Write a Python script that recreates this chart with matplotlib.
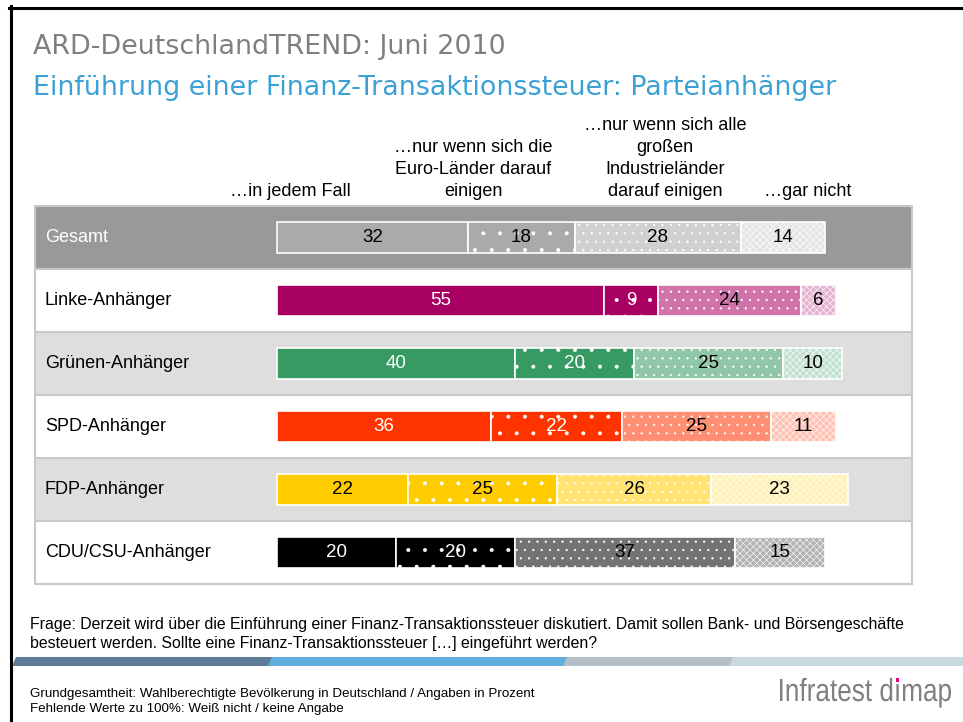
import matplotlib.pyplot as plt
import numpy as np
from matplotlib.colors import to_rgb
from matplotlib.patches import Rectangle, Polygon, PathPatch
from matplotlib.lines import Line2D
from matplotlib.textpath import TextPath
from matplotlib.font_manager import FontProperties
from matplotlib.transforms import Affine2D, IdentityTransform

groups = ["Gesamt", "Linke-Anhänger", "Grünen-Anhänger", "SPD-Anhänger",
          "FDP-Anhänger", "CDU/CSU-Anhänger"]
in_jedem_fall = [32, 55, 40, 36, 22, 20]
nur_euro = [18, 9, 20, 22, 25, 20]
nur_industrie = [28, 24, 25, 25, 26, 37]
gar_nicht = [14, 6, 10, 11, 23, 15]
answers = ["…in jedem Fall",
           "…nur wenn sich die\nEuro-Länder darauf\neinigen",
           "…nur wenn sich alle\ngroßen\nIndustrieländer\ndarauf einigen",
           "…gar nicht"]
party_colors = ["#aaaaaa", "#a80062", "#379a63", "#ff3300", "#ffcc00", "#000000"]

W, H = 963, 722
ARIAL = "Liberation Sans"


def fx(px):
    return px / W


def fy(py):
    return 1 - py / H


def tint(c, f):
    rgb = np.array(to_rgb(c))
    return tuple(rgb * f + (1 - f))


plt.rcParams['hatch.linewidth'] = 0.4
fig = plt.figure(figsize=(W / 100, H / 100), dpi=100)

# outer frame
fig.add_artist(Line2D([fx(9), 1], [fy(7.5), fy(7.5)], color='black', lw=2.2))
fig.add_artist(Line2D([fx(10.5), fx(10.5)], [fy(6), 0], color='black', lw=2.2))

fig.text(fx(33), fy(54), "ARD-DeutschlandTREND: Juni 2010", family="DejaVu Sans",
         size=19.4, color="#7f7f7f", va="baseline")
fig.text(fx(33), fy(95), "Einführung einer Finanz-Transaktionssteuer: Parteianhänger",
         family="DejaVu Sans", size=19.4, color="#3aa0d6", va="baseline")

# column headers
header_x = [290, 473, 665, 808]
for cx, label in zip(header_x, answers):
    lines = label.split("\n")
    n = len(lines)
    for k, line in enumerate(lines):
        fig.text(fx(cx), fy(196 - 22 * (n - 1 - k)), line, family=ARIAL, size=13,
                 ha="center", va="baseline")

ax = fig.add_axes([fx(35), fy(584), fx(912) - fx(35), fy(206) - fy(584)])
ax.set_xlim(-40.7, 106.7)
ax.set_ylim(6, 0)
ax.axis("off")

row_bg = ["#999999", "white", "#dedede", "white", "#dedede", "white"]
for i, bg in enumerate(row_bg):
    ax.axhspan(i, i + 1, color=bg, zorder=0)
for i in range(1, 6):
    ax.axhline(i, color="#c8c8c8", lw=1.5, zorder=1)
ax.add_patch(Rectangle((0, 0), 1, 1, transform=ax.transAxes, fill=False,
                       ec="#c8c8c8", lw=1.5, clip_on=False, zorder=1))

series = [in_jedem_fall, nur_euro, nur_industrie, gar_nicht]
tints = [1.0, 1.0, 0.55, 0.3]
hatches = [None, ".", "..", "xxxxx"]
dark_rows = {1, 2, 3, 5}

left = np.zeros(len(groups))
for j, vals in enumerate(series):
    for i, v in enumerate(vals):
        c = party_colors[i]
        y = i + 0.5
        ax.barh(y, v, left=left[i], height=0.5, color=tint(c, tints[j]),
                edgecolor="white", linewidth=1.2, zorder=2)
        if hatches[j]:
            ax.barh(y, v, left=left[i], height=0.5, color="none",
                    edgecolor="white", hatch=hatches[j], linewidth=0, zorder=3)
        txt_col = "white" if (j < 2 and i in dark_rows) else "black"
        ax.text(left[i] + v / 2, y, str(v), ha="center", va="center",
                family=ARIAL, size=13.5, color=txt_col, zorder=4)
    left += np.array(vals)

for i, name in enumerate(groups):
    ax.text(0.0114, i + 0.5, name, transform=ax.get_yaxis_transform(),
            family=ARIAL, size=13, va="center",
            color="white" if i == 0 else "black", zorder=4)

# footer
fig.text(fx(30), fy(629), "Frage: Derzeit wird über die Einführung einer Finanz-Transaktionssteuer "
         "diskutiert. Damit sollen Bank- und Börsengeschäfte", family=ARIAL, size=11.4,
         va="baseline")
fig.text(fx(30), fy(648), "besteuert werden. Sollte eine Finanz-Transaktionssteuer […] "
         "eingeführt werden?", family=ARIAL, size=11.4, va="baseline")

band = [(12, 272, "#5f7d99"), (268, 567, "#5eaede"), (563, 733, "#b5bfca"),
        (729, 963, "#cad8e1")]
for x0, x1, col in band:
    fig.add_artist(Polygon([(fx(x0), fy(666)), (fx(x0 + 4), fy(657)),
                            (fx(x1 + 4), fy(657)), (fx(x1), fy(666))],
                           closed=True, fc=col, ec="none"))

fig.text(fx(30), fy(697), "Grundgesamtheit: Wahlberechtigte Bevölkerung in Deutschland / "
         "Angaben in Prozent", family=ARIAL, size=9.6, va="baseline")
fig.text(fx(30), fy(712), "Fehlende Werte zu 100%: Weiß nicht / keine Angabe",
         family=ARIAL, size=9.6, va="baseline")

# condensed logo text: squeeze a text path horizontally
logo_prop = FontProperties(family=ARIAL)
logo = TextPath((0, 0), "Infratest dımap", size=32, prop=logo_prop)
ext = logo.get_extents()
sx = 171 / ext.width
logo_tr = Affine2D().translate(-ext.x0, 0).scale(sx, 1).translate(780, H - 701)
fig.add_artist(PathPatch(logo, transform=logo_tr + IdentityTransform(),
                         fc="#808080", ec="none"))
upto_i = TextPath((0, 0), "Infratest dı", size=32, prop=logo_prop).get_extents()
i_w = TextPath((0, 0), "ı", size=32, prop=logo_prop).get_extents()
dot_x = 780 + (upto_i.x1 - ext.x0 - i_w.width) * sx
fig.add_artist(Rectangle((dot_x, H - 682), i_w.width * sx, 4,
                         transform=IdentityTransform(), fc="#e6007e", ec="none"))

fig.savefig("out.png", dpi=100)
